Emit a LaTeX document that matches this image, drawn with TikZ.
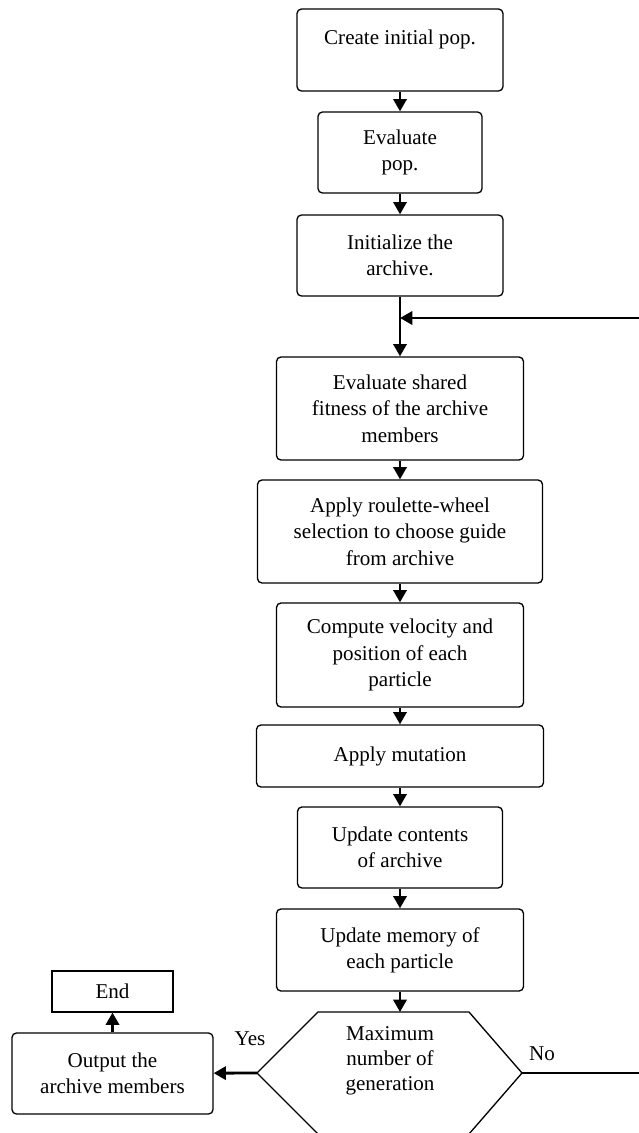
\documentclass[tikz,border=0pt]{standalone}
\usepackage{fontspec}
\setmainfont{Liberation Serif}
\usetikzlibrary{positioning}
\usetikzlibrary{arrows.meta}
\tikzset{
    procbox/.style = {rectangle, rounded corners=2.5pt, draw=black, line width=0.75pt, align=center, inner sep=1pt, font=\fontsize{12}{15}\selectfont},
    endbox/.style = {rectangle, draw=black, line width=0.65pt, align=center, font=\fontsize{12}{15}\selectfont},
    lbl/.style = {align=center, draw=none, font=\fontsize{12}{14.2}\selectfont},
    edgen/.style = {-{Triangle[length=7pt,width=7.5pt]}, line width=1.6pt},
    linen/.style = {line width=0.75pt}
}
\begin{document}
\begin{tikzpicture}[x=0.02cm,y=-0.02cm]
\useasboundingbox (0,0) rectangle (639,1133);
%
\node[procbox, minimum width=4.12cm, minimum height=1.64cm] at (400,50) (init) {Create initial pop.\\ ~};
\node[procbox, minimum width=3.28cm, minimum height=1.62cm] at (400,152.5) (evalpop) {Evaluate\\pop.};
\node[procbox, minimum width=4.12cm, minimum height=1.62cm] at (400,255.5) (archive) {Initialize the\\archive.};
\node[procbox, minimum width=4.94cm, minimum height=2.06cm] at (400,408.5) (fitness) {Evaluate shared\\fitness of the archive\\members};
\node[procbox, minimum width=5.70cm, minimum height=2.06cm] at (400,531.5) (roulette) {Apply roulette-wheel\\selection to choose guide\\from archive};
\node[procbox, minimum width=4.94cm, minimum height=2.08cm] at (400,655) (velocity) {Compute velocity and\\position of each\\particle};
\node[procbox, minimum width=5.74cm, minimum height=1.24cm] at (400,756) (mutation) {Apply mutation};
\node[procbox, minimum width=4.10cm, minimum height=1.62cm] at (400,847.5) (contents) {Update contents\\of archive};
\node[procbox, minimum width=4.94cm, minimum height=1.64cm] at (400,950) (memory) {Update memory of\\each particle};
\node[procbox, minimum width=4.02cm, minimum height=1.62cm] at (112.5,1073.5) (output) {Output the\\archive members};
\node[endbox, minimum width=2.42cm, minimum height=0.82cm] at (112.5,991.5) (end) {End};
%
\coordinate (dl) at (257,1073);
\coordinate (dtl) at (318,1012);
\coordinate (dtop) at (400,1012);
\coordinate (dtr) at (469,1012);
\coordinate (dr) at (522,1073);
\coordinate (dbr) at (469,1134);
\coordinate (dbl) at (318,1134);
\draw[linen] (dl) -- (dtl) -- (dtr) -- (dr) -- (dbr) -- (dbl) -- cycle;
\node[lbl] at (390,1061) (dec) {Maximum\\number of\\generation};
\node[lbl] at (250,1039) (yes) {Yes};
\node[lbl] at (542,1054) (no) {No};
%
\coordinate (loopin) at (639,318);
\coordinate (join) at (400,318);
\coordinate (noout) at (639,1073);
%
\draw[edgen] (init) -- (evalpop);
\draw[edgen] (evalpop) -- (archive);
\draw[edgen] (archive) -- (fitness);
\draw[edgen] (loopin) -- (join);
\draw[edgen] (fitness) -- (roulette);
\draw[edgen] (roulette) -- (velocity);
\draw[edgen] (velocity) -- (mutation);
\draw[edgen] (mutation) -- (contents);
\draw[edgen] (contents) -- (memory);
\draw[edgen] (memory) -- (dtop);
\draw[edgen] (dl) -- (output);
\draw[edgen] (output) -- (end);
\draw[linen] (dr) -- (noout);
\end{tikzpicture}
\end{document}
